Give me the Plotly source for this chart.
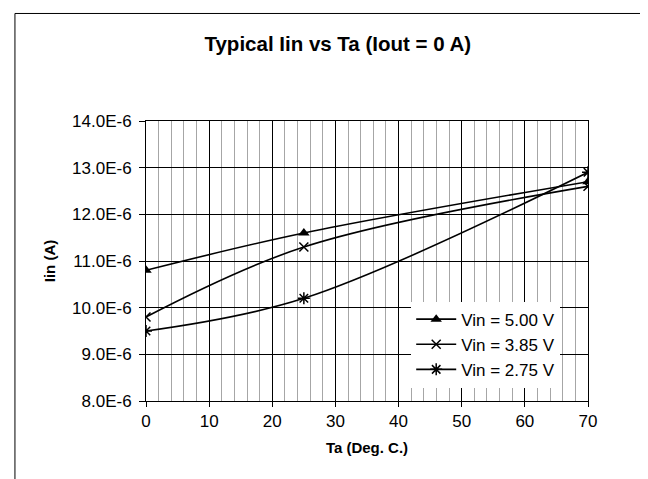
import plotly.graph_objects as go

# Data (temperature in deg C, input current in micro-amps)
ta = [0, 25, 70]
iin_500 = [10.8, 11.6, 12.7]
iin_385 = [9.8, 11.3, 12.6]
iin_275 = [9.5, 10.2, 12.9]
series_names = ["Vin = 5.00 V", "Vin = 3.85 V", "Vin = 2.75 V"]
y_tick_vals = [8, 9, 10, 11, 12, 13, 14]
y_tick_text = ["8.0E-6", "9.0E-6", "10.0E-6", "11.0E-6", "12.0E-6", "13.0E-6", "14.0E-6"]

FONT = "Liberation Sans, Arial, sans-serif"

def amps(vals):
    return [v * 1e-6 for v in vals]

fig = go.Figure()
styles = [
    dict(symbol="triangle-up", size=10, color="black", line=dict(width=0)),
    dict(symbol="x-thin", size=9, color="black", line=dict(width=1.5, color="black")),
    dict(symbol="asterisk", size=10, color="black", line=dict(width=1.5, color="black")),
]
for name, vals, mk in zip(series_names, [iin_500, iin_385, iin_275], styles):
    fig.add_trace(go.Scatter(
        x=ta, y=amps(vals), name=name, mode="lines+markers",
        line=dict(color="black", width=1.6, shape="spline", smoothing=1.0),
        marker=mk,
    ))

fig.update_layout(
    width=648, height=479,
    margin=dict(l=137.5, r=67.5, t=112.6, b=86),
    paper_bgcolor="white", plot_bgcolor="white",
    font=dict(family=FONT, size=17, color="black"),
    title=dict(text="<b>Typical Iin vs Ta (Iout = 0 A)</b>", x=0.509, xanchor="center",
               y=1 - 36 / 479, yanchor="middle", font=dict(size=20.5, family=FONT, color="black")),
    showlegend=True,
    legend=dict(x=0.60, y=0.355, xanchor="left", yanchor="top", bgcolor="white",
                borderwidth=0, font=dict(size=17, family=FONT, color="black"),
                tracegroupgap=0, itemwidth=40),
    shapes=[dict(type="rect", xref="paper", yref="paper", x0=-0.2965, x1=1.144,
                 y0=-0.32, y1=1.384, line=dict(color="black", width=1), fillcolor="rgba(0,0,0,0)",
                 layer="below")],
)

fig.update_xaxes(
    range=[0, 70], tick0=0, dtick=10, showgrid=True, gridcolor="black", gridwidth=1,
    showline=True, linecolor="black", linewidth=1, mirror=True,
    ticks="outside", ticklen=5, tickcolor="black", zeroline=False,
    tickfont=dict(size=17, family=FONT, color="black"),
    minor=dict(tick0=0, dtick=2, showgrid=True, gridcolor="#a6a6a6", gridwidth=1, ticks=""),
    title=dict(text="<b>Ta (Deg. C.)</b>", font=dict(size=15, family=FONT, color="black"), standoff=12),
)
fig.update_yaxes(
    range=[8e-6, 14e-6], tickvals=amps(y_tick_vals), ticktext=y_tick_text,
    showgrid=True, gridcolor="black", gridwidth=1,
    showline=True, linecolor="black", linewidth=1, mirror=True,
    ticks="outside", ticklen=6, tickcolor="black", zeroline=False, ticklabelstandoff=4,
    tickfont=dict(size=17, family=FONT, color="black"),
    title=dict(text="<b>Iin (A)</b>", font=dict(size=15, family=FONT, color="black"), standoff=12),
)

fig.write_html("out.html")
